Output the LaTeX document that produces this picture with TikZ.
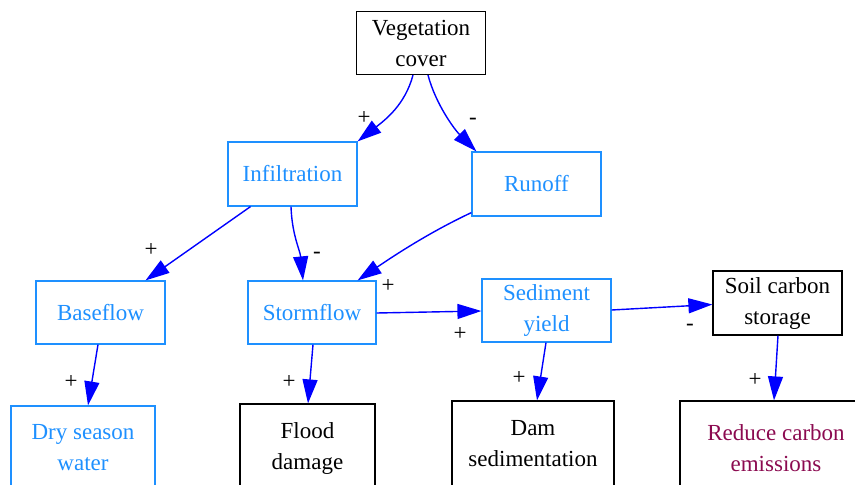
\documentclass[tikz,border=0pt]{standalone}
\usepackage{fontspec}
\newfontfamily\tnr{Liberation Serif}
\usetikzlibrary{arrows.meta,calc}
\definecolor{lblue}{HTML}{1E90FF}
\definecolor{edgeblue}{HTML}{0000FF}
\definecolor{dpink}{HTML}{8B0A50}
\begin{document}
\begin{tikzpicture}[x=1pt,y=-1pt,
  box/.style={draw=black,line width=1.2pt,text=black,align=center,inner sep=0pt,font=\tnr\fontsize{23}{31}\selectfont},
  bbox/.style={box,draw=lblue,text=lblue},
  edge/.style={draw=edgeblue,line width=1.4pt,-{Triangle[length=24pt,width=15pt]}},
  sgn/.style={text=black,inner sep=0pt,font=\tnr\fontsize{23}{31}\selectfont}]
\useasboundingbox (0,0) rectangle (855,485);
% nodes
\node[box,minimum width=129,minimum height=63] (veg) at (421,43) {Vegetation\\cover};
\node[bbox,minimum width=129,minimum height=64] (inf) at (292.5,174) {Infiltration};
\node[bbox,minimum width=129,minimum height=64] (run) at (536.5,184) {Runoff};
\node[bbox,minimum width=129,minimum height=63] (base) at (100.5,312.5) {Baseflow};
\node[bbox,minimum width=128,minimum height=63] (storm) at (312,312.5) {Stormflow};
\node[bbox,minimum width=129,minimum height=63] (sed) at (546.5,310.5) {Sediment\\yield};
\node[box,minimum width=129,minimum height=64] (soil) at (777.5,303) {Soil carbon\\storage};
\begin{scope}
\clip (0,0) rectangle (855,485);
\node[bbox,minimum width=144,minimum height=84] (dry) at (83,448) {Dry season\\water};
\node[box,minimum width=135,minimum height=88] (flood) at (307.5,448) {Flood\\damage};
\node[box,minimum width=162,minimum height=86] (dam) at (533,444) {Dam\\sedimentation};
\node[box,minimum width=192,minimum height=94,text=dpink] (red) at (776,448) {Reduce carbon\\emissions};
\end{scope}
% edges
\draw[edge] ($(veg.south)+(-8,0)$) .. controls (405,105) and (385,120) .. (inf.north east);
\draw[edge] ($(veg.south)+(7,0)$) .. controls (436,105) and (455,130) .. ($(run.north west)+(5,0)$);
\draw[edge] ($(inf.south)+(-42,0)$) -- ($(base.north)+(45,0)$);
\draw[edge] ($(inf.south)+(-1.5,0)$) .. controls (292,235) and (300,250) .. ($(storm.north)+(-9,0)$);
\draw[edge] ($(run.south west)+(0,-4)$) .. controls (430,232) and (395,255) .. ($(storm.north east)+(-19,0)$);
\draw[edge] ($(storm.east)+(0,0.5)$) -- ($(sed.west)+(0,0.5)$);
\draw[edge] ($(sed.east)+(0,-0.5)$) -- ($(soil.west)+(0,1.5)$);
\draw[edge] ($(base.south)+(-2.5,0)$) -- ($(dry.north)+(5,0)$);
\draw[edge] ($(storm.south)+(1,0)$) -- ($(flood.north)+(0.5,0)$);
\draw[edge] ($(sed.south)+(-0.5,0)$) -- ($(dam.north)+(4,0)$);
\draw[edge] ($(soil.south)+(0.5,0)$) -- ($(red.north)+(-2,0)$);
% signs
\node[sgn] (s1) at (364,118) {+};
\node[sgn] (s2) at (473,121) {-};
\node[sgn] (s3) at (151,250) {+};
\node[sgn] (s4) at (317,255) {-};
\node[sgn] (s5) at (388,286) {+};
\node[sgn] (s6) at (460,334) {+};
\node[sgn] (s7) at (690,327) {-};
\node[sgn] (s8) at (71,382) {+};
\node[sgn] (s9) at (289,382) {+};
\node[sgn] (s10) at (519,378) {+};
\node[sgn] (s11) at (755,380) {+};
\end{tikzpicture}
\end{document}
